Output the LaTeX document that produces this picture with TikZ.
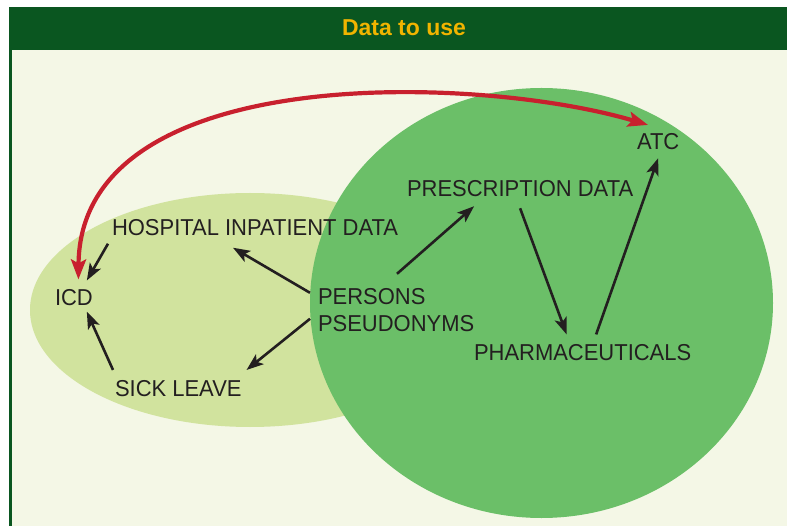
\documentclass[tikz,border=0pt]{standalone}
\usepackage{fontspec}
\setmainfont{Liberation Sans}
\newfontfamily\labelfont[FakeStretch=0.955]{Liberation Sans}
\usetikzlibrary{arrows.meta}
\definecolor{bargreen}{RGB}{10,86,32}
\definecolor{paper}{RGB}{244,247,230}
\definecolor{palegreen}{RGB}{209,227,158}
\definecolor{midgreen}{RGB}{107,191,104}
\definecolor{titlegold}{RGB}{240,180,0}
\definecolor{linkred}{RGB}{200,32,46}
\definecolor{ink}{RGB}{35,31,32}
\begin{document}
\begin{tikzpicture}[x=1pt,y=-1pt,
  lbl/.style={inner sep=0pt,outer sep=0pt,text=ink,font=\labelfont\fontsize{23}{26.5}\selectfont},
  arr/.style={draw=ink,line width=2.6pt,-{Stealth[length=17pt,width=12.5pt,inset=4pt]}},
  redarr/.style={draw=linkred,line width=4.2pt,{Stealth[length=20pt,width=15pt,inset=4pt]}-{Stealth[length=20pt,width=15pt,inset=4pt]}}]
\useasboundingbox (0,0) rectangle (787,526);
% frame and title bar
\fill[white] (0,0) rectangle (787,526);
\fill[bargreen] (9,7) rectangle (787,526);
\fill[paper] (12,50) rectangle (787,526);
\node[inner sep=0pt,text=titlegold,font=\bfseries\fontsize{23}{26}\selectfont] (title) at (404,28) {Data to use};
% the two data domains
\fill[palegreen] (250,310) ellipse [x radius=220, y radius=117];
\fill[midgreen] (541.5,303) ellipse [x radius=231.5, y radius=215];
% labels
\node[lbl,anchor=base west] (hosp) at (112,235.5) {HOSPITAL INPATIENT DATA};
\node[lbl,anchor=base west] (icd) at (55,305.5) {ICD};
\node[lbl,anchor=base west] (sick) at (115,396) {SICK LEAVE};
\node[lbl,anchor=north west,align=left] (pers) at (318,288.8) {PERSONS\\PSEUDONYMS};
\node[lbl,anchor=base west] (presc) at (407,197) {PRESCRIPTION DATA};
\node[lbl,anchor=base west] (atc) at (637,150) {ATC};
\node[lbl,anchor=base west] (pharm) at (474,360.5) {PHARMACEUTICALS};
% connectors
\draw[arr] ([shift={(-4,8)}]hosp.south west) -- ([shift={(-6,-9)}]icd.north east);
\draw[arr] ([shift={(-2,-10)}]sick.north west) -- ([shift={(-6,6)}]icd.south east);
\draw[arr] ([shift={(-8,4)}]pers.north west) -- ([shift={(-22,12)}]hosp.south);
\draw[arr] ([shift={(-8,30)}]pers.north west) -- ([shift={(5,-10)}]sick.north east);
\draw[arr] ([shift={(79,-15)}]pers.north west) -- ([shift={(-46,9)}]presc.south);
\draw[arr] ([shift={(0,11)}]presc.south) -- ([shift={(-16,-10)}]pharm.north);
\draw[arr] ([shift={(13.5,-10)}]pharm.north) -- ([shift={(0,8)}]atc.south);
\draw[redarr] ([shift={(4.5,-10)}]icd.north) .. controls (80,60) and (480,75) .. ([shift={(11,-9)}]atc.north west);
\end{tikzpicture}
\end{document}
